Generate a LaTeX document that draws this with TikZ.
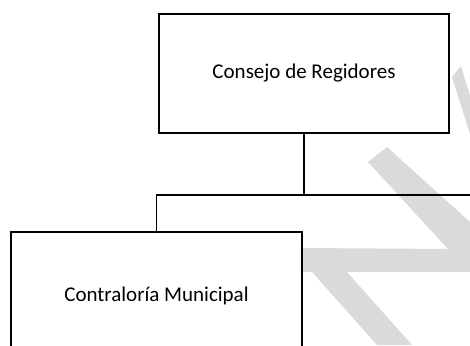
\documentclass[tikz,border=0pt]{standalone}
\usepackage{fontspec}
\setmainfont{Carlito}
\definecolor{wm}{RGB}{218,218,218}
\begin{document}
\begin{tikzpicture}[x=1pt,y=-1pt,
  orgbox/.style={draw=black,line width=1.2pt,fill=white,inner sep=0pt,
    font=\fontsize{21}{25}\selectfont},
  link/.style={draw=black,line width=1.2pt}]
\clip (0,0) rectangle (470,345);
\fill[white] (0,0) rectangle (470,345);
% watermark
\fill[wm] (368,162) -- (387,147) -- (470,222) -- (470,272) -- (347,272)
  -- (412,345) -- (377,345) -- (312,272) -- (302,272) -- (302,248)
  -- (448,249) -- cycle;
\fill[wm] (452,77) -- (461,66) -- (470,96) -- (470,134) -- cycle;
% boxes
\node[orgbox,minimum width=290pt,minimum height=119pt] (cr) at (304,73.5) {Consejo de Regidores};
\node[orgbox,minimum width=291pt,minimum height=128pt] (cm) at (156.5,296) {Contraloría Municipal};
% connectors
\coordinate (j) at (304,195);
\coordinate (r) at (476,195);
\draw[link] (cr.south) -- (j);
\draw[link] (r) -- (j -| cm.north) -- (cm.north);
\end{tikzpicture}
\end{document}
